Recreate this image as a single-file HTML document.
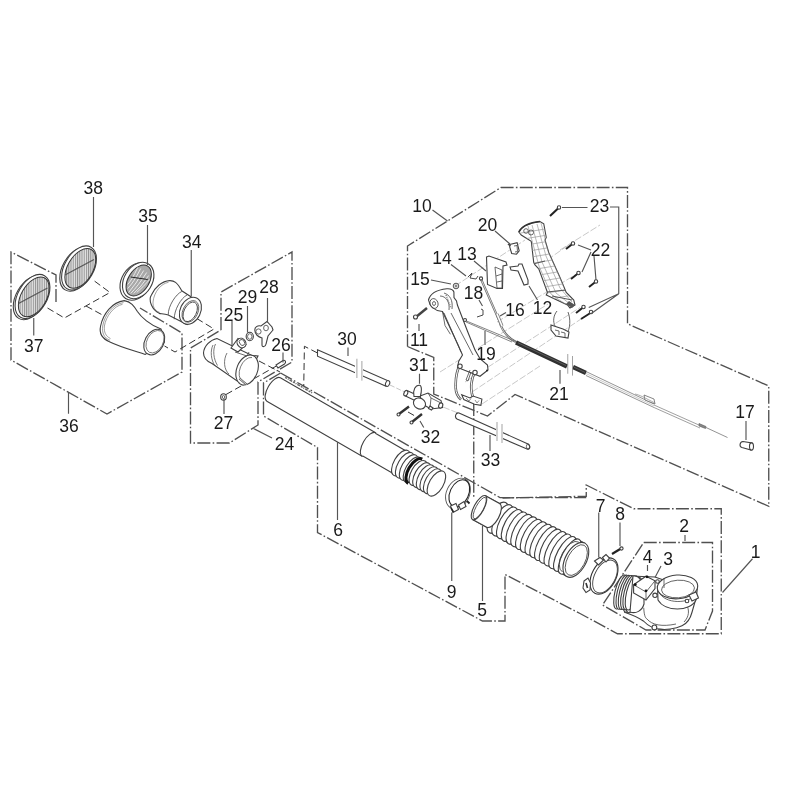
<!DOCTYPE html>
<html><head><meta charset="utf-8">
<style>
html,body{margin:0;padding:0;background:#fff;width:800px;height:800px;overflow:hidden}
svg{display:block;will-change:transform}
.lbl{font-family:"Liberation Sans",sans-serif;font-size:17.5px;fill:#1a1a1a;text-anchor:middle}
.dd{fill:none;stroke:#505050;stroke-width:1.35;stroke-dasharray:13,2.3,1.6,2.3}
.ld{fill:none;stroke:#555;stroke-width:1.15}
.p{fill:#fff;stroke:#404040;stroke-width:1.1}
.ax{fill:none;stroke:#333;stroke-width:1;stroke-dasharray:7,3.5}
.t{fill:none;stroke:#444;stroke-width:0.8}
</style></head><body>
<svg width="800" height="800" viewBox="0 0 800 800">

<g id="boxes">
<!-- box 36 -->
<polyline class="dd" points="56,302 56,275 11,252 11,360 107,414 182,372 182,333 140,308"/>
<!-- box 24 -->
<polyline class="dd" points="221,330 221,292 292,252 292,362 258,382 258,425 229.5,443 190.5,443 190.5,348 221,330"/>
<!-- box P (tube 6) -->
<polyline class="dd" points="280.6,373 263.5,383 263.5,416 317.5,447.5 317.5,532.5 482.5,621 505,621 505,574.5 580,613.5 617.5,633.75 721.25,633.75 721.25,508.75 633.75,508.75 586.25,485 586.25,496.25 502.5,498 "/>
<!-- box 10 -->
<polyline class="dd" points="407.5,346.5 433.75,357.5 433.75,394 487.5,416 515,394.5 768.75,506.25 768.75,386 627.5,323.75 627.5,187.5 501,187.5 407.5,246 407.5,346.5"/>
<polyline class="dd" points="280.6,373 500,497.6 586.25,497.6"/>
<polyline class="dd" points="473.75,403 473.75,497.5"/>
<!-- box 2 -->
<polyline class="dd" points="643.75,542.5 712.5,542.5 712.5,611 705,630 646,630 602.5,605 643.75,542.5"/>
</g>
<defs>
<pattern id="grille" width="2.2" height="10" patternUnits="userSpaceOnUse" patternTransform="rotate(60)">
<rect width="2.4" height="10" fill="#e2e2e2"/><rect width="1.0" height="10" fill="#8f8f8f"/>
</pattern>
</defs>
<g id="leftgroup">
<!-- axis dashed lines -->
<path class="ax" d="M47.5,308 L64.4,318 L110,292.5 L94.4,281 M86,306 L102.5,315"/>
<path class="ax" d="M196.75,318.5 L214,329 L175,352 L164.5,346"/>
<!-- filter 37 -->
<g transform="translate(32.5,296.5)">
<ellipse cx="-1.8" cy="1.1" rx="24" ry="14.6" transform="rotate(-60 -1.8 1.1)" class="p"/>
<ellipse cx="0" cy="0" rx="24" ry="14.6" transform="rotate(-60)" class="p"/>
<ellipse cx="1.3" cy="0.4" rx="21.8" ry="12.6" transform="rotate(-60 1.3 0.4)" fill="url(#grille)" stroke="#333" stroke-width="1"/>
<path d="M-14,7 L15,-8.5" stroke="#555" stroke-width="1.1"/>
</g>
<!-- filter 38 -->
<g transform="translate(79,268)">
<ellipse cx="-1.8" cy="1.1" rx="24" ry="14.6" transform="rotate(-60 -1.8 1.1)" class="p"/>
<ellipse cx="0" cy="0" rx="24" ry="14.6" transform="rotate(-60)" class="p"/>
<ellipse cx="1.3" cy="0.4" rx="21.8" ry="12.6" transform="rotate(-60 1.3 0.4)" fill="url(#grille)" stroke="#333" stroke-width="1"/>
<path d="M-14,7 L15,-8.5" stroke="#555" stroke-width="1.1"/>
</g>
<!-- part 35 -->
<g transform="translate(137.7,280.5)">
<ellipse cx="-1.5" cy="1" rx="20" ry="14.5" transform="rotate(-58 -1.5 1)" class="p"/>
<ellipse cx="0.5" cy="0" rx="19.5" ry="14" transform="rotate(-58 0.5 0)" class="p"/>
<ellipse cx="1" cy="0" rx="17" ry="10.5" transform="rotate(-58 1 0)" fill="#a8a8a8" stroke="#333" stroke-width="1"/>
<g fill="none" stroke="#f0f0f0" stroke-width="0.9">
<path d="M-9,12 Q-2,4 6,-10"/><path d="M-10,8 Q-4,2 3,-12"/><path d="M-10,4 Q-6,0 0,-13"/><path d="M-7,13 Q0,6 9,-8"/><path d="M-4,13 Q3,7 11,-5"/><path d="M-1,12 Q5,7 12,-1"/>
</g>
<path d="M-7,-3.5 L10,-1" stroke="#222" stroke-width="1"/>
</g>
<!-- cone (36) -->
<path class="p" d="M124.25,300.6 C131,301.5 134,306 137.4,311.5 C141,317 150,325 161,329 L164.5,342 L145.25,354.4 C135,351 120,347 109.4,341.7 C101,338 99,333 100.6,326 C103,314 112,302 124.25,300.6 Z"/>
<path d="M123.5,302.6 C113,304 104.5,315 102.7,326 C101.8,333 104,338 110,340.3 M122.5,304.3 C114,306 106,316 104.4,326 C103.8,332 105.5,336 110.5,338.6" fill="none" stroke="#777" stroke-width="0.7"/>
<ellipse cx="154.25" cy="342.1" rx="13.6" ry="9.4" transform="rotate(-62 154.25 342.1)" class="p"/>
<ellipse cx="155" cy="341.7" rx="12" ry="8" transform="rotate(-62 155 341.7)" fill="none" stroke="#555" stroke-width="0.7"/>
<!-- part 34 -->
<path class="p" d="M169.75,280.6 C174,280.5 177,282 181.75,290.75 L197.5,301 L187,324.5 L168.25,315 C163,313.5 160,314 159.25,313.25 C152,310 148,300 151.4,295 C155,287 162,281 169.75,280.6 Z"/>
<path class="t" d="M181.75,291.5 C176,294 168,306 168.25,314.75 M187,295 C181,298 174,310 174.25,319.25"/>
<path d="M168.5,282.3 C161,283.5 154,292 153,302 C152.8,307 155,311 159.5,312.3" fill="none" stroke="#777" stroke-width="0.7"/>
<ellipse cx="190.4" cy="310.8" rx="14.2" ry="10.2" transform="rotate(-64 190.4 310.8)" class="p"/>
<ellipse cx="190.4" cy="311.4" rx="11.5" ry="7.5" transform="rotate(-64 190.4 311.4)" fill="none" stroke="#555" stroke-width="0.8"/>
<ellipse cx="190.2" cy="311.8" rx="10.5" ry="6.2" transform="rotate(-64 190.2 311.8)" fill="none" stroke="#333" stroke-width="0.8"/>
</g>

<g id="midgroup">
<!-- part 25 coupling -->
<path class="ax" d="M226,394.5 L280,364 M259,361 L280,372"/>
<path class="p" d="M217,338.5 C210,340 204,346 203.5,353 C203.5,358 206,361 212,363.5 L243,385 L258,356 L252,355.5 Z"/>
<path d="M213,345 C210,351 211,360 215,366 M215.5,344 C212.5,350 213.5,359 217.5,365.5 M227,353 C223,360 224,370 229,374" fill="none" stroke="#555" stroke-width="0.8"/>
<ellipse cx="247.1" cy="370" rx="15.6" ry="10.4" transform="rotate(-68 247.1 370)" class="p"/>
<path d="M252,357.5 A13,8.2 -68 0 0 242.5,381.5" fill="none" stroke="#555" stroke-width="0.8"/>
<path class="p" d="M231,348 L238,338.5 L246,344.5 L238,352 Z" stroke="#555"/>
<ellipse cx="241.5" cy="343" rx="4.2" ry="5" transform="rotate(-35 241.5 343)" class="p"/>
<ellipse cx="242" cy="342.5" rx="2.4" ry="3.2" transform="rotate(-35 242 342.5)" class="t"/>
<path class="t" d="M235,352 L247,356 L249,352" stroke="#555"/>
<path d="M239.5,378.5 L246.5,384.5" stroke="#555" stroke-width="2.2"/><path d="M239.5,378.5 L246.5,384.5" stroke="#fff" stroke-width="0.8"/>
<!-- 29 o-ring -->
<ellipse cx="249.75" cy="336.5" rx="3.6" ry="4.2" class="p"/>
<ellipse cx="249.75" cy="336.5" rx="2.2" ry="2.8" class="t"/>
<!-- 28 lever -->
<path class="p" d="M255,331 C254,327 258,325 261,326 L267,321.5 L272,327 L273,330 L268,336 L266,344 C265.5,347 262,347.5 262,345 L262,338 C258,337 255,334 255,331 Z"/>
<circle cx="258.5" cy="331.5" r="2.6" class="t"/>
<ellipse cx="266" cy="328" rx="2.4" ry="2.8" class="t"/>
<!-- 26 screw -->
<path class="p" d="M276,365 L283,360.5 C285.5,359.5 286.5,362.5 284.5,364 L278,368 Z"/>
<!-- 27 washer -->
<ellipse cx="223.5" cy="397" rx="2.8" ry="3.2" class="p"/>
<ellipse cx="223.5" cy="397" rx="1.2" ry="1.6" class="t"/>
<!-- rod 30 -->
<path class="ax" d="M317.5,353 L304.4,346.25 L303.75,386"/>
<path class="p" d="M317.5,349.8 L388,380.8 L386,386.2 L317.5,356.2 Z" stroke="#777" stroke-width="1"/>
<ellipse cx="387.6" cy="383.5" rx="2" ry="3" transform="rotate(20 387.6 383.5)" class="p" stroke="#777" stroke-width="1"/>
<rect x="355" y="357" width="8" height="24" fill="#fff"/>
<path d="M356.9,358.75 V378 M361.9,361 V380.6" stroke="#999" stroke-width="0.9"/>
<!-- tube 6 -->
<g transform="translate(273.6,389.5) rotate(30)">
<path class="p" d="M0,-13.5 L110,-13.5 L110,-13 L146,-13 L146,13 L110,13 L110,13.5 L0,13.5 A6,13.5 0 0 1 0,-13.5 Z"/>
<path d="M4,-16.3 L36,-16.3" stroke="#666" stroke-width="1.6" stroke-dasharray="2,1,1,1,3,1"/>
<path d="M110,-13.5 A6,13.5 0 0 0 110,13.5" class="p"/>
<ellipse cx="147" cy="0" rx="7" ry="14.3" class="p"/><ellipse cx="151.5" cy="0" rx="7" ry="14.3" class="p"/><ellipse cx="156" cy="0" rx="7" ry="14.3" class="p"/><ellipse cx="160.5" cy="0" rx="7" ry="14.3" class="p"/><path d="M163.5,-14 A7,14 0 0 0 163.5,14" fill="none" stroke="#111" stroke-width="3"/><ellipse cx="167" cy="0" rx="7" ry="13.8" class="p"/><ellipse cx="171.2" cy="0" rx="7" ry="13.8" class="p"/><ellipse cx="175.4" cy="0" rx="7" ry="13.8" class="p"/><ellipse cx="179.6" cy="0" rx="7" ry="13.8" class="p"/><ellipse cx="183.6" cy="0" rx="7" ry="13.8" class="p"/><ellipse cx="188" cy="0" rx="7" ry="14" class="p"/>
</g>
</g>

<g id="rightgroup">
<!-- clamp 9 -->
<ellipse cx="458" cy="493.5" rx="11.5" ry="16" transform="rotate(25 458 493.5)" fill="none" stroke="#555" stroke-width="0.9"/>
<ellipse cx="459.3" cy="493.3" rx="9.3" ry="14.3" transform="rotate(25 459.3 493.3)" fill="none" stroke="#222" stroke-width="1.1"/>
<path class="p" d="M450.5,506 L456,503.5 L458.5,509.5 L453,512.5 Z" stroke="#444" stroke-width="0.9"/>
<path d="M451,508 L453.5,512" stroke="#222" stroke-width="1.5"/>
<path class="p" d="M458.5,505 L464,501.5 L466,506.5 L460.5,509.5 Z" stroke="#444" stroke-width="0.9"/>
<path d="M467,501 L469.5,503.5" stroke="#222" stroke-width="1.8"/>
<!-- hose 5 -->
<g transform="translate(479,507.7) rotate(28.3)">
<path class="p" d="M0,-13.5 L16,-13.5 L22,-16.5 L110,-19 L110,19 L22,16.5 L16,13.5 L0,13.5 Z"/>
<ellipse cx="21.0" cy="0" rx="7.5" ry="17.1" class="p" stroke="#444"/><ellipse cx="26.5" cy="0" rx="7.5" ry="17.3" class="p" stroke="#444"/><ellipse cx="31.9" cy="0" rx="7.5" ry="17.4" class="p" stroke="#444"/><ellipse cx="37.4" cy="0" rx="7.5" ry="17.6" class="p" stroke="#444"/><ellipse cx="42.9" cy="0" rx="7.5" ry="17.8" class="p" stroke="#444"/><ellipse cx="48.3" cy="0" rx="7.5" ry="17.9" class="p" stroke="#444"/><ellipse cx="53.8" cy="0" rx="7.5" ry="18.1" class="p" stroke="#444"/><ellipse cx="59.3" cy="0" rx="7.5" ry="18.3" class="p" stroke="#444"/><ellipse cx="64.7" cy="0" rx="7.5" ry="18.4" class="p" stroke="#444"/><ellipse cx="70.2" cy="0" rx="7.5" ry="18.6" class="p" stroke="#444"/><ellipse cx="75.7" cy="0" rx="7.5" ry="18.8" class="p" stroke="#444"/><ellipse cx="81.1" cy="0" rx="7.5" ry="18.9" class="p" stroke="#444"/><ellipse cx="86.6" cy="0" rx="7.5" ry="19.1" class="p" stroke="#444"/><ellipse cx="92.1" cy="0" rx="7.5" ry="19.3" class="p" stroke="#444"/><ellipse cx="97.5" cy="0" rx="7.5" ry="19.4" class="p" stroke="#444"/><ellipse cx="103.0" cy="0" rx="7.5" ry="19.6" class="p" stroke="#444"/>
<ellipse cx="110" cy="0" rx="10.5" ry="19" class="p"/>
<ellipse cx="110.5" cy="0" rx="8.8" ry="16.8" class="t"/>
<path class="t" d="M104,-17 A9,17 0 0 0 104,17"/>
<path class="p" d="M0,-13.5 L16,-13.5 A6,13.5 0 0 1 16,13.5 L0,13.5"/>
<ellipse cx="0" cy="0" rx="5" ry="13.5" class="p"/>
<ellipse cx="0.8" cy="0" rx="3.8" ry="12" class="t"/>
</g>
</g>

<g id="intake">
<!-- clamp 7 -->
<ellipse cx="604" cy="576" rx="12" ry="19.5" transform="rotate(28 604 576)" fill="none" stroke="#333" stroke-width="1.1"/>
<ellipse cx="605" cy="576.5" rx="10.3" ry="17.8" transform="rotate(28 605 576.5)" fill="none" stroke="#444" stroke-width="0.9"/>
<path class="p" d="M594.5,561 L600,557.5 L603.5,560 L598.5,565 Z" stroke="#444"/>
<path class="p" d="M602.5,557.5 L606,554.5 L609.5,558 L606,562 Z" stroke="#444"/>
<path class="p" d="M584,581 L588,578 L590.5,583 L590,590 L586,592.5 L583,588 Z" stroke="#444"/>
<path d="M586,583 L587.5,588" stroke="#333" stroke-width="1.6"/>
<!-- screw 8 -->
<path d="M612,554 L621,548.5" stroke="#222" stroke-width="2.2"/>
<circle cx="621.5" cy="548.5" r="1.6" class="p"/>
<!-- elbow body -->
<path class="p" d="M630,576 L655,577 L692,590 L697.75,596 L695.5,600 L692,612.25 C690,620 686,624 682,625.75 C675,629 665,630 660.6,629.1 C655,629 650,628 643.75,621.25 C636,616 630,614 624.6,612.25 Z" stroke="#444"/>
<path class="t" d="M643.75,607.75 C644,614 645,618 647,619 C652,625 662,627 676,624 M686,604 C690,610 689,617 684,622" stroke="#666"/>
<ellipse cx="631.4" cy="594.7" rx="6.2" ry="18.5" transform="rotate(18 631.4 594.7)" class="p" stroke="#444"/><ellipse cx="634.0" cy="595.0" rx="6.2" ry="18.5" transform="rotate(18 634.0 595.0)" class="p" stroke="#444"/>
<ellipse cx="620.5" cy="592.0" rx="5.5" ry="17.5" transform="rotate(14 620.5 592.0)" class="p" stroke="#444"/><ellipse cx="622.8" cy="592.2" rx="5.5" ry="17.5" transform="rotate(14 622.8 592.2)" class="p" stroke="#444"/><ellipse cx="625.1" cy="592.4" rx="5.5" ry="17.5" transform="rotate(14 625.1 592.4)" class="p" stroke="#444"/><ellipse cx="627.4" cy="592.6" rx="5.5" ry="17.5" transform="rotate(14 627.4 592.6)" class="p" stroke="#444"/><ellipse cx="629.7" cy="592.8" rx="5.5" ry="17.5" transform="rotate(14 629.7 592.8)" class="p" stroke="#444"/><ellipse cx="632.0" cy="593.0" rx="5.5" ry="17.5" transform="rotate(14 632.0 593.0)" class="p" stroke="#444"/><path class="p" d="M633,576 C638,575 642,580 644,588 L644,604 C642,611 636,614 630,612 Z" stroke="#555"/>
<!-- housing 3 -->
<path class="p" d="M633.6,584.7 L646,576.25 L655,580.75 L655,588.6 L646,600 L633.6,593 Z" stroke="#444"/>
<path class="t" d="M633.6,584.7 L646,592 L655,580.75 M646,592 L646,600" stroke="#555"/>
<circle cx="647" cy="576.8" r="1.4" fill="#111"/><circle cx="635.3" cy="584.7" r="1.4" fill="#111"/>
<circle cx="646" cy="590.8" r="1.4" fill="#111"/>
<!-- outlet ring -->
<path class="p" d="M657.5,587 L658,600 C665,612 690,612 696,600 L697.5,587 Z" stroke="#444"/>
<ellipse cx="677.5" cy="586.9" rx="20.25" ry="11.9" transform="rotate(-4 677.5 586.9)" class="p" stroke="#333"/>
<ellipse cx="678" cy="589" rx="16.5" ry="8.8" transform="rotate(-4 678 589)" class="t" stroke="#444"/>
<path class="t" d="M659,592 C664,604 690,605 696.5,593 M664,578 L664,588" stroke="#555"/>
<path class="p" d="M689,595 L696,592 L698.5,598 L692,601 Z" stroke="#444"/>
<circle cx="687" cy="601" r="1.8" class="p" stroke="#555"/>
<circle cx="655" cy="595.3" r="2.2" class="p" stroke="#444"/><circle cx="654.4" cy="627.4" r="2.4" class="p" stroke="#444"/>
<circle cx="657.5" cy="581.5" r="1.8" class="p" stroke="#555"/>
</g>

<g id="handle">
<!-- light axis lines -->
<path d="M455,286 L525,240 M540,265 L570,244 M497,322 L575,275 M440,372 L548,304 M465,382 L580,307.5 M472,392 L590,313 M482,404 L540,366 M443,407 L458,413 M560,250 L600,225" stroke="#b0b0b0" stroke-width="0.7" stroke-dasharray="7,2" fill="none"/>
<!-- rod 33 -->
<path d="M390,385 L413,396" stroke="#aaa" stroke-width="0.7" stroke-dasharray="5,2" fill="none"/>
<path class="p" d="M459,413 L528,444 C531,446 530,450 527,449 L457,419 C454,417 456,412 459,413 Z" stroke="#555"/>
<rect x="496" y="426" width="7" height="25" fill="#fff"/>
<path d="M497,422 V441 M502,424 V443" stroke="#999" stroke-width="0.9"/>
<ellipse cx="528" cy="446.5" rx="1.6" ry="2.6" class="t"/>
<!-- 31 -->
<path class="p" d="M407,390.5 L421,397 L419,402.5 L405.5,396 C403.5,395 405,389.5 407,390.5 Z" stroke="#555" stroke-width="1"/>
<ellipse cx="405.8" cy="393.2" rx="1.8" ry="2.8" transform="rotate(25 405.8 393.2)" class="p" stroke="#555" stroke-width="1"/>
<path class="p" d="M420,396 L428,393 L441,400.5 L442.5,407.5 L431,409 L423,404.5 Z" stroke="#555" stroke-width="1"/>
<path class="t" d="M428,393 L431,398 L441,403 M431,398 L430,408" stroke="#777"/>
<ellipse cx="440.7" cy="405.5" rx="2" ry="2.7" transform="rotate(20 440.7 405.5)" class="p" stroke="#555" stroke-width="1"/>
<ellipse cx="419.5" cy="403.5" rx="6.3" ry="5.3" transform="rotate(32 419.5 403.5)" class="p" stroke="#555" stroke-width="1"/>
<path class="p" d="M414,396.5 C412.5,390 415.5,385 419.5,385.3 C422,385.6 421.8,391 420.3,396.5 Z" stroke="#555" stroke-width="1"/>
<path d="M430,406 L433,408 L431.5,410 L428.5,408.5 Z" class="p" stroke="#666" stroke-width="0.8"/>
<!-- 32 screws -->
<path d="M399,414 L409,406.5 M412,422 L422,414" stroke="#333" stroke-width="2.4"/>
<circle cx="398.5" cy="414.5" r="1.5" class="p"/><circle cx="411.5" cy="422.5" r="1.5" class="p"/>
<path class="ax" d="M408,412 L415,416" stroke-dasharray="3,2"/>
<!-- lower handle half -->
<path class="p" d="M428.5,300 C430,294 436,290 446.9,288.75 C451,288.5 453,289 453.9,292 L454,297.5 L456.5,301 L457.4,305 L467.5,331.25 L475,350 L480,358.75 L487.5,365 L488,370 L480,376.25 L457.5,367.5 L458.75,361.25 L462.5,355 L457.5,343.75 L448.75,325 L442.5,311.5 C436,311 430,308 428.5,300 Z" stroke="#444"/>
<path class="t" d="M444,313 L461,352 M451,313 L473,355 M442.5,311.5 L445,325.5 L450.4,334.25 M440,296 C446,296 450,302 449,310 M444,293 C450,295 453,300 452,309" stroke="#666"/>
<path d="M446,295 L451,308" stroke="#888" stroke-width="1.5" stroke-dasharray="1,1"/>
<ellipse cx="434" cy="303.5" rx="4" ry="5" transform="rotate(-20 434 303.5)" class="t" stroke="#555"/>
<ellipse cx="434" cy="303.5" rx="1.5" ry="2" class="t" stroke="#777"/>
<path d="M459.6,366 C456,372 455.5,382 455.7,388.3 C456,393 458,397 461,399.5 M474.5,372.3 C472,378 471,384 471.3,389 C471.5,392 472,395 473,397.5" fill="none" stroke="#555" stroke-width="2.6"/><path d="M459.6,366 C456,372 455.5,382 455.7,388.3 C456,393 458,397 461,399.5 M474.5,372.3 C472,378 471,384 471.3,389 C471.5,392 472,395 473,397.5" fill="none" stroke="#fff" stroke-width="1"/>
<path class="p" d="M461.7,394.7 L470,398 L473,396 L481.9,399 L480.9,405.3 L474.5,404.3 L463.8,399.5 Z" stroke="#555" stroke-width="1"/><path d="M466,398 L469,401 L471,398.5 M475,400 L477,403 L479,400.5" fill="none" stroke="#666" stroke-width="0.7"/>
<circle cx="460" cy="366.25" r="2.2" class="p" stroke="#555"/><circle cx="475" cy="372.5" r="2.2" class="p" stroke="#555"/>
<path class="t" d="M470,370 L466,380 L468,381 L471,372" stroke="#666"/>
<circle cx="487" cy="370.5" r="0.9" fill="#222"/>
<!-- screw 11 -->
<path d="M416,317 L427,308" stroke="#444" stroke-width="2.4"/>
<circle cx="415.5" cy="317" r="2" class="p" stroke="#555"/>
<!-- nut 15 -->
<circle cx="456" cy="286" r="2.8" fill="#ddd" stroke="#444" stroke-width="0.9"/>
<circle cx="456" cy="286" r="1.2" fill="#888"/>
<!-- spring 14 -->
<path d="M468,277 L472,273 L470,278 L476,279 L478,276" fill="none" stroke="#333" stroke-width="0.9"/>
<!-- 18 -->
<path d="M481,309 L483,310 L483,315 L477,317" fill="none" stroke="#333" stroke-width="0.9"/>
<!-- 13 plate -->
<path class="p" d="M486.5,257 L489,256 L506,262 L507,265 L503,266 L502.5,288.5 L497,288.5 L487.5,284.5 Z" stroke="#777" stroke-width="0.9"/>
<path class="t" d="M495,267 L502,270 L502,288 L497,288 Z M496,276 L502,274 M497,282 L502,281" stroke="#888"/>
<!-- 20 block -->
<path class="p" d="M509.7,244.5 L517.1,242.7 L519.2,250.8 L516.5,254.2 L511.7,253.5 L509.7,246.8 Z" stroke="#777" stroke-width="0.9"/>
<path class="t" d="M514,246 L517,245.5 L517.5,251.5 L515,252" stroke="#888"/><path d="M508,244 L510.5,246" stroke="#444" stroke-width="1.6"/>
<!-- 12 lever -->
<path class="p" d="M510,267 L518,266 L519,264 L522,264 L528,280 L528,284 L524,285 L518,271 L511,270 Z" stroke="#777" stroke-width="0.9"/>
<!-- cables -->
<path d="M481,279 L499,320 C502,332 508,338 516,342" fill="none" stroke="#666" stroke-width="2.2"/><path d="M481,279 L499,320 C502,332 508,338 516,342" fill="none" stroke="#eee" stroke-width="0.8"/><path d="M497,314 L502,326" stroke="#777" stroke-width="3.2"/><path d="M497,314 L502,326" stroke="#fff" stroke-width="1.6"/><circle cx="481" cy="278.5" r="1.6" class="p" stroke="#777" stroke-width="0.8"/>
<path d="M464,320 L517,342 M466,322 L512,342" fill="none" stroke="#666" stroke-width="0.8"/>
<circle cx="465" cy="320" r="1.5" class="p" stroke="#555"/>
<path d="M516,342.5 L567,366.5 M573,367 L586,373" stroke="#303030" stroke-width="4.6" stroke-linecap="butt"/><path d="M518,342.8 L566,365.5 M574,367.2 L585,372.4" stroke="#666" stroke-width="0.8"/>
<path d="M567.75,354 V373.75 M572.5,356 V375.6" stroke="#999" stroke-width="0.9"/>
<path d="M586,371.5 L654,404 M586,375.5 L654,407.5" stroke="#888" stroke-width="0.9" fill="none"/>
<path d="M586,373.5 L654,405.8" stroke="#ccc" stroke-width="1" fill="none"/>
<path d="M644,395 L654,399 L655,404 L645,400 Z" fill="#fff" stroke="#666" stroke-width="0.8"/>
<path d="M654,405 L700,425.5 M654,407.5 L700,428" stroke="#888" stroke-width="0.8" fill="none"/>
<path d="M699,423.5 L706,426.5 L705.5,428.5 L699,426 Z" fill="#888" stroke="#555" stroke-width="0.6"/>
<path d="M706,427.5 L727.5,437.5" stroke="#777" stroke-width="0.8"/>
<path d="M635,394 C640,395 645,398 655,403" fill="none" stroke="#888" stroke-width="0.7"/>
<!-- grip upper half -->
<defs><clipPath id="gripc"><path d="M518.75,232 C520,228 528,223 540,221.5 L543.75,223.75 L546.25,237.5 L545,240 L548.75,252.5 L560,277.5 L566.25,292.5 L573.75,300 L575,305 L570,308 L567.5,305 L546.25,295 L547.5,292.5 L538.75,268.75 L535,265 L533.75,262.5 L531.25,241.25 L521.25,235 Z"/></clipPath></defs>
<path class="p" d="M518.75,232 C520,228 528,223 540,221.5 L543.75,223.75 L546.25,237.5 L545,240 L548.75,252.5 L560,277.5 L566.25,292.5 L573.75,300 L575,305 L570,308 L567.5,305 L546.25,295 L547.5,292.5 L538.75,268.75 L535,265 L533.75,262.5 L531.25,241.25 L521.25,235 Z" stroke="#555"/>
<g clip-path="url(#gripc)" stroke="#999" stroke-width="0.7" fill="none"><path d="M528,226 L539,266 L551,294 L568,306 M532,225 L542,262 L556,293 L570,304 M537,224 L546,256 L560,288 L572,302 M541,223 L548,250 L564,287"/><path d="M515.0,234.0 L545.0,229.0 M517.6,240.0 L547.6,235.0 M520.2,246.0 L550.2,241.0 M522.8,252.0 L552.8,247.0 M525.4,258.0 L555.4,253.0 M528.0,264.0 L558.0,259.0 M530.6,270.0 L560.6,265.0 M533.2,276.0 L563.2,271.0 M535.8,282.0 L565.8,277.0 M538.4,288.0 L568.4,283.0 M541.0,294.0 L571.0,289.0 M543.6,300.0 L573.6,295.0 "/><path d="M533,264 L545,261 M547,292 L566,290 M552,296 L572,300" stroke="#555" stroke-width="1"/></g>
<path d="M519,232 C522,226 530,222.5 540,221.5" fill="none" stroke="#333" stroke-width="1.5"/>
<circle cx="526" cy="231" r="2.3" class="t" stroke="#555"/><circle cx="531" cy="232.5" r="2.5" class="t" stroke="#555"/>
<path d="M566,304 L572,308 L575,305 L569,301 Z" fill="#555"/>
<!-- bracket under grip -->
<path d="M557,311 C553,316 553,322 555,326 M568,312 C571,320 570,328 567,334" fill="none" stroke="#555" stroke-width="0.9"/>
<path class="p" d="M551,325 L563,329 L569,332 L568,338 L556,336 L551,330 Z" stroke="#555"/>
<path class="t" d="M555,330 L559,331 L559,335 M561,332 L565,333 L565,337" stroke="#666"/>
<!-- screws 22/23 -->
<path d="M550,216 L558.5,208" stroke="#222" stroke-width="2"/><circle cx="559" cy="207.5" r="1.7" class="p" stroke="#777"/>
<path d="M566,249 L573,243.5 M571,279 L578.5,273 M589,287 L596,281.5 M576,313 L583,307.5 M581,319 L592,312" stroke="#222" stroke-width="2"/>
<circle cx="573" cy="243.5" r="1.7" class="p" stroke="#777"/><circle cx="578.5" cy="273" r="1.7" class="p" stroke="#777"/><circle cx="596" cy="281.5" r="1.7" class="p" stroke="#777"/>
<circle cx="583.5" cy="307" r="1.7" class="p" stroke="#777"/><circle cx="591" cy="312" r="1.7" class="p" stroke="#777"/>
<!-- 17 -->
<path class="p" d="M743,441.5 L752,443 L751,450 L742,447.5 C739,446.5 739.5,442 743,441.5 Z" stroke="#555"/><ellipse cx="751.5" cy="446.5" rx="2" ry="3.6" class="p" stroke="#555"/>
</g>
<g id="labels">
<text class="lbl" x="93.25" y="194.20">38</text>
<text class="lbl" x="148.00" y="221.70">35</text>
<text class="lbl" x="33.75" y="352.20">37</text>
<text class="lbl" x="69.00" y="431.95">36</text>
<text class="lbl" x="191.70" y="247.70">34</text>
<text class="lbl" x="269.00" y="292.70">28</text>
<text class="lbl" x="247.50" y="302.70">29</text>
<text class="lbl" x="233.50" y="321.00">25</text>
<text class="lbl" x="281.00" y="351.20">26</text>
<text class="lbl" x="223.50" y="429.20">27</text>
<text class="lbl" x="284.50" y="449.70">24</text>
<text class="lbl" x="347.00" y="345.20">30</text>
<text class="lbl" x="422.00" y="211.90">10</text>
<text class="lbl" x="487.50" y="231.45">20</text>
<text class="lbl" x="442.00" y="263.95">14</text>
<text class="lbl" x="467.00" y="260.20">13</text>
<text class="lbl" x="420.00" y="285.20">15</text>
<text class="lbl" x="473.50" y="299.20">18</text>
<text class="lbl" x="515.00" y="316.20">16</text>
<text class="lbl" x="542.50" y="313.95">12</text>
<text class="lbl" x="419.00" y="346.20">11</text>
<text class="lbl" x="486.00" y="360.20">19</text>
<text class="lbl" x="418.75" y="371.45">31</text>
<text class="lbl" x="599.50" y="211.95">23</text>
<text class="lbl" x="600.50" y="256.45">22</text>
<text class="lbl" x="559.00" y="400.20">21</text>
<text class="lbl" x="430.50" y="442.70">32</text>
<text class="lbl" x="490.50" y="466.45">33</text>
<text class="lbl" x="745.00" y="417.70">17</text>
<text class="lbl" x="600.50" y="511.70">7</text>
<text class="lbl" x="620.00" y="520.20">8</text>
<text class="lbl" x="684.00" y="532.00">2</text>
<text class="lbl" x="647.50" y="562.70">4</text>
<text class="lbl" x="668.00" y="565.20">3</text>
<text class="lbl" x="755.70" y="557.70">1</text>
<text class="lbl" x="451.50" y="597.70">9</text>
<text class="lbl" x="482.00" y="616.20">5</text>
<text class="lbl" x="338.00" y="536.20">6</text>
</g>
<g id="leaders">
<path class="ld" d="M93.5,197V247 M147.5,225V265 M33.75,318V335.5 M68.5,392.4V413.7 M191.25,250V296 M267.5,298V322.5 M247.5,306V332.5 M232,321V345 M283,352.5V362.5 M224,398.5V414 M348,347.5V356 M253.5,428.5L272,438 M432.5,210L447.5,221 M495,231L510,244 M451,264.5L466,276 M474,261L486,271 M431,280L451,284 M479,300L482.5,306 M500,316L506,312.5 M529,286L537.5,300 M419,324V331 M485,331V345 M560,370V383.75 M419.5,373.75V383.75 M420,421L423.75,427.5 M490,435V451 M746,421V440 M451.75,512.5V581 M482.5,526V601 M337.5,442V520 M598.75,512.5V557.5 M620,522.5V546 M685,535V541 M647.5,565V571 M661,566L655,577.5 M752.5,558.75L722.5,592.5 M562,207.5H587.5 M610,207H618.75V293.75L588.75,307.5 M618.75,293.75L591,313.75 M591,250L578,245 M591,252L582,272 M594,256L596,280"/>
</g>
</svg>
</body></html>
